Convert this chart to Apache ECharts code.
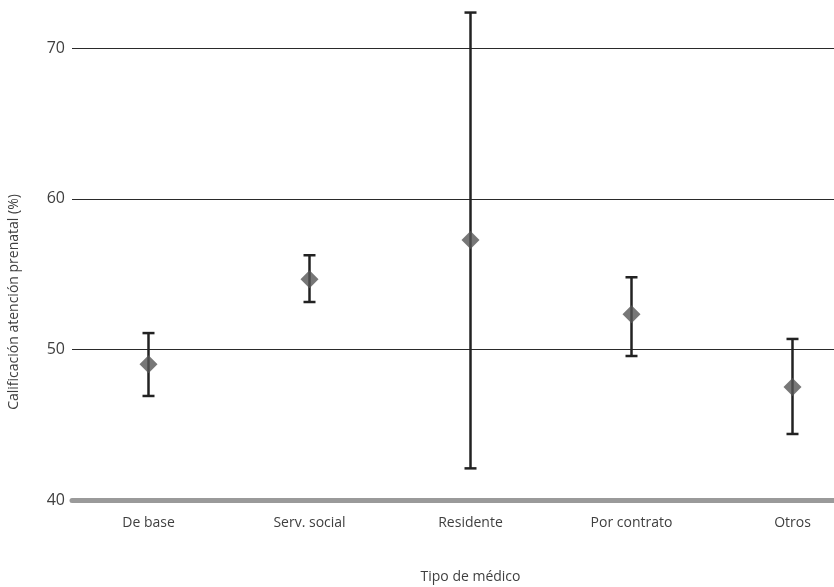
<!DOCTYPE html>
<html>
<head>
<meta charset="utf-8">
<script src="https://cdn.jsdelivr.net/npm/echarts@6/dist/echarts.min.js"></script>
<style>
  html, body { margin: 0; padding: 0; background: #fff; }
  #chart { width: 834px; height: 587px; }
</style>
</head>
<body>
<div id="chart"></div>
<script>
// Prenatal care rating by type of physician: mean with interval bounds
const categories = ['De base', 'Serv. social', 'Residente', 'Por contrato', 'Otros'];
const meanValues = [49.03, 54.67, 57.27, 52.35, 47.53];
const lowerValues = [46.93, 53.16, 42.13, 49.58, 44.41];
const upperValues = [51.1, 56.26, 72.35, 54.8, 50.71];
const yTicks = [40, 50, 60, 70];

const FONT = '"Open Sans", "Noto Sans", sans-serif';
const TEXT = '#3f3f3f';

const chart = echarts.init(document.getElementById('chart'));

const errorData = categories.map((c, i) => [i, lowerValues[i], upperValues[i]]);
const meanData = categories.map((c, i) => [i, meanValues[i]]);

chart.setOption({
  animation: false,
  backgroundColor: '#fff',
  grid: [
    { left: 72, right: 0, top: 48, bottom: 86.5, outerBoundsMode: 'none' },
    { left: 68, width: 805, top: 48, bottom: 86.5, outerBoundsMode: 'none' }
  ],
  xAxis: [
    {
      gridIndex: 0, type: 'category', data: categories,
      axisLine: { show: true, lineStyle: { color: '#9a9a9a', width: 5 } },
      axisTick: { show: false }, axisLabel: { show: false }, splitLine: { show: false }
    },
    {
      gridIndex: 1, type: 'category', data: categories, boundaryGap: true,
      axisLine: { show: false }, axisTick: { show: false },
      axisLabel: { color: TEXT, fontFamily: FONT, fontSize: 14, margin: 16 },
      name: 'Tipo de médico', nameLocation: 'middle', nameGap: 70,
      nameTextStyle: { color: TEXT, fontFamily: FONT, fontSize: 14 }
    }
  ],
  yAxis: [
    {
      gridIndex: 0, type: 'value', min: yTicks[0], max: yTicks[yTicks.length - 1], interval: 10,
      axisLine: { show: false }, axisTick: { show: false },
      axisLabel: { color: TEXT, fontFamily: FONT, fontSize: 16, margin: 7 },
      splitLine: { show: true, lineStyle: { color: '#2a2a2a', width: 1 } }
    },
    {
      gridIndex: 1, type: 'value', min: yTicks[0], max: yTicks[yTicks.length - 1],
      show: false, splitLine: { show: false }
    }
  ],
  graphic: [
    {
      type: 'text', rotation: Math.PI / 2,
      x: 14, y: 302,
      style: {
        text: 'Calificación atención prenatal (%)',
        fill: TEXT, font: '14px ' + FONT,
        align: 'center', verticalAlign: 'middle'
      }
    }
  ],
  series: [
    {
      type: 'custom', xAxisIndex: 1, yAxisIndex: 1, clip: false, z: 3,
      data: errorData,
      renderItem: function (params, api) {
        const lo = api.coord([api.value(0), api.value(1)]);
        const hi = api.coord([api.value(0), api.value(2)]);
        const half = 6;
        const style = { stroke: '#222', lineWidth: 2.5 };
        return {
          type: 'group',
          children: [
            { type: 'line', shape: { x1: lo[0], y1: lo[1], x2: hi[0], y2: hi[1] }, style: style },
            { type: 'line', shape: { x1: lo[0] - half, y1: lo[1], x2: lo[0] + half, y2: lo[1] }, style: style },
            { type: 'line', shape: { x1: hi[0] - half, y1: hi[1], x2: hi[0] + half, y2: hi[1] }, style: style }
          ]
        };
      }
    },
    {
      type: 'scatter', xAxisIndex: 1, yAxisIndex: 1, z: 4,
      symbol: 'diamond', symbolSize: [18, 18],
      itemStyle: { color: '#555555' },
      data: meanData
    }
  ]
});
</script>
</body>
</html>
